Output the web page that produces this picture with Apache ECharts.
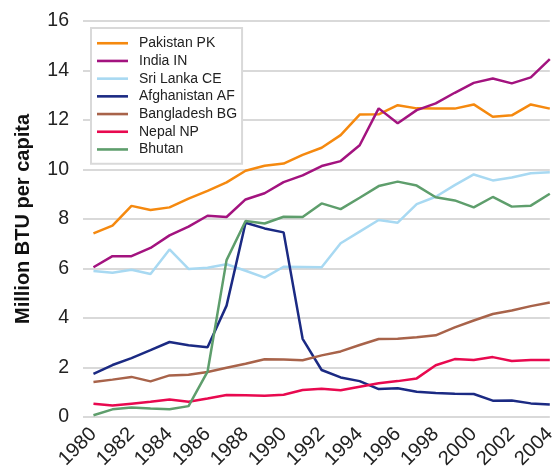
<!DOCTYPE html>
<html><head><meta charset="utf-8">
<script src="https://cdn.jsdelivr.net/npm/echarts@6/dist/echarts.min.js"></script>
<style>html,body{margin:0;padding:0;background:#fff}#c{width:559px;height:472px}</style>
</head><body><div id="c"></div>
<script>
const years = [1980,1981,1982,1983,1984,1985,1986,1987,1988,1989,1990,1991,1992,1993,1994,1995,1996,1997,1998,1999,2000,2001,2002,2003,2004];
const tickYears = [1980,1982,1984,1986,1988,1990,1992,1994,1996,1998,2000,2002,2004];
const pakistan = [7.42,7.73,8.53,8.36,8.47,8.82,9.14,9.48,9.95,10.15,10.24,10.59,10.88,11.39,12.22,12.23,12.6,12.47,12.46,12.46,12.63,12.13,12.19,12.63,12.46];
const india = [6.05,6.5,6.5,6.83,7.34,7.69,8.13,8.08,8.79,9.04,9.49,9.76,10.14,10.34,10.98,12.47,11.87,12.4,12.67,13.1,13.5,13.68,13.48,13.72,14.46];
const sriLanka = [5.9,5.83,5.95,5.78,6.77,5.98,6.03,6.17,5.91,5.63,6.07,6.06,6.05,7.02,7.49,7.96,7.85,8.6,8.9,9.37,9.8,9.56,9.68,9.85,9.89];
const afghanistan = [1.74,2.1,2.38,2.7,3.03,2.9,2.82,4.5,7.85,7.62,7.46,3.16,1.9,1.6,1.45,1.13,1.16,1.02,0.97,0.94,0.93,0.66,0.67,0.55,0.51];
const bangladesh = [1.41,1.51,1.62,1.44,1.68,1.71,1.82,1.99,2.15,2.33,2.32,2.29,2.49,2.65,2.91,3.15,3.16,3.22,3.3,3.62,3.9,4.16,4.3,4.48,4.63];
const nepal = [0.54,0.46,0.54,0.62,0.71,0.62,0.75,0.89,0.88,0.86,0.9,1.09,1.14,1.08,1.22,1.36,1.45,1.56,2.09,2.34,2.3,2.42,2.26,2.3,2.3];
const bhutan = [0.07,0.31,0.38,0.34,0.31,0.44,1.83,6.34,7.92,7.82,8.09,8.08,8.63,8.4,8.86,9.33,9.51,9.35,8.88,8.75,8.47,8.89,8.5,8.54,9.02];
const seriesNames = ['Pakistan PK','India IN','Sri Lanka CE','Afghanistan AF','Bangladesh BG','Nepal NP','Bhutan'];
const seriesData = [pakistan, india, sriLanka, afghanistan, bangladesh, nepal, bhutan];
const colors = ['#f5890f','#a3137f','#a8d9f2','#1b2a83','#a8634a','#e8094f','#5e9e6c'];
const yTicks = [0,2,4,6,8,10,12,14,16];

const font = 'Liberation Sans, Arial, sans-serif';
const chart = echarts.init(document.getElementById('c'), null, {renderer:'canvas'});
chart.setOption({
  animation:false,
  color: colors,
  grid:{left:83, right:1, top:21, bottom:55, containLabel:false},
  legend:{
    orient:'vertical', left:91, top:28,
    data: seriesNames.map(n=>({name:n, icon:'rect'})),
    backgroundColor:'#fff',
    borderColor:'#d9d9d9', borderWidth:2, borderRadius:0,
    padding:[8,5,7,6],
    itemWidth:31, itemHeight:2.6, itemGap:3.2,
    textStyle:{fontFamily:font, fontSize:14, lineHeight:14.5, color:'#222', padding:[0,0,0,6]}
  },
  xAxis:{
    type:'value', min:1979.45, max:2004,
    axisLine:{show:false}, axisTick:{show:false}, splitLine:{show:false},
    axisLabel:{customValues: tickYears, rotate:45, fontFamily:font, fontSize:20, color:'#222', margin:14,
      formatter: v => String(v)}
  },
  yAxis:{
    type:'value', min:yTicks[0], max:yTicks[yTicks.length-1], interval:2,
    name:'Million BTU per capita', nameLocation:'middle', nameGap:50, nameRotate:90,
    nameTextStyle:{fontFamily:font, fontSize:20, fontWeight:'bold', color:'#111'},
    axisLine:{show:false}, axisTick:{show:false},
    axisLabel:{fontFamily:font, fontSize:19.5, color:'#222', margin:14},
    splitLine:{show:true, lineStyle:{color:'#d9d9d9', width:2}}
  },
  series: seriesNames.map((n,i)=>({
    name:n, type:'line', symbol:'none', showSymbol:false,
    lineStyle:{width:2.5, color:colors[i]}, itemStyle:{color:colors[i]},
    data: years.map((y,j)=>[y, seriesData[i][j]])
  }))
});
</script></body></html>
